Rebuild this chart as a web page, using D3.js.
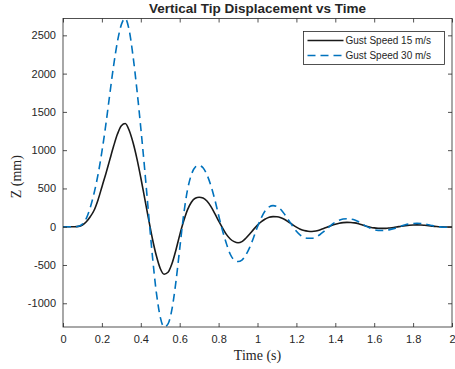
<!DOCTYPE html>
<html>
<head>
<meta charset="utf-8">
<script src="https://cdn.jsdelivr.net/npm/d3@7"></script>
<style>
  html, body { margin: 0; padding: 0; background: #fff; }
  svg { display: block; }
</style>
</head>
<body>
<svg id="chart" width="455" height="369"></svg>
<script>
// Time samples (s)
const time = [
  0.00,0.02,0.04,0.06,0.08,0.10,0.12,0.14,0.16,0.18,
  0.20,0.22,0.24,0.26,0.28,0.30,0.32,0.34,0.36,0.38,
  0.40,0.42,0.44,0.46,0.48,0.50,0.52,0.54,0.56,0.58,
  0.60,0.62,0.64,0.66,0.68,0.70,0.72,0.74,0.76,0.78,
  0.80,0.82,0.84,0.86,0.88,0.90,0.92,0.94,0.96,0.98,
  1.00,1.02,1.04,1.06,1.08,1.10,1.12,1.14,1.16,1.18,
  1.20,1.22,1.24,1.26,1.28,1.30,1.32,1.34,1.36,1.38,
  1.40,1.42,1.44,1.46,1.48,1.50,1.52,1.54,1.56,1.58,
  1.60,1.62,1.64,1.66,1.68,1.70,1.72,1.74,1.76,1.78,
  1.80,1.82,1.84,1.86,1.88,1.90,1.92,1.94,1.96,1.98,
  2.00
];

// Vertical tip displacement (mm), gust speed 15 m/s
const zGust15 = [
  0,0,0,0,4,22,65,130,215,350,
  520,690,870,1050,1210,1320,1348,1260,1100,890,
  640,370,100,-160,-380,-545,-620,-595,-485,-310,
  -110,70,220,320,372,385,375,335,265,175,
  75,-15,-100,-160,-195,-210,-195,-150,-95,-35,
  20,65,100,125,132,130,118,95,62,27,
  -5,-32,-50,-59,-62,-57,-42,-24,-4,16,
  33,46,54,57,56,50,38,23,7,-6,
  -15,-20,-22,-21,-16,-10,-2,6,13,19,
  23,24,23,19,14,8,3,-1,-3,-4,
  -4
];

// Vertical tip displacement (mm), gust speed 30 m/s
const zGust30 = [
  0,0,0,0,5,35,110,250,440,680,
  980,1330,1720,2100,2420,2640,2720,2570,2230,1790,
  1290,750,170,-390,-860,-1180,-1310,-1270,-1080,-730,
  -290,150,480,680,780,800,770,680,540,360,
  150,-50,-220,-360,-435,-455,-435,-370,-270,-140,
  0,120,210,260,275,265,225,160,85,10,
  -60,-110,-140,-150,-150,-135,-105,-65,-20,25,
  60,85,100,104,100,88,65,35,5,-20,
  -38,-48,-50,-47,-38,-25,-8,10,25,36,
  42,44,42,35,25,14,5,-2,-6,-7,
  -6
];

const seriesNames = ["Gust Speed 15 m/s", "Gust Speed 30 m/s"];
const xTicks = [0,0.2,0.4,0.6,0.8,1,1.2,1.4,1.6,1.8,2];
const xTickLabels = ["0","0.2","0.4","0.6","0.8","1","1.2","1.4","1.6","1.8","2"];
const yTicks = [-1000,-500,0,500,1000,1500,2000,2500];
const yTickLabels = ["-1000","-500","0","500","1000","1500","2000","2500"];
const xDomain = [0, 2];
const yDomain = [-1310, 2720];

const svg = d3.select("#chart");
const plot = { left: 63, right: 452, top: 18.5, bottom: 327 };
const axisColor = "#262626";
const tickLen = 4;

const x = d3.scaleLinear().domain(xDomain).range([plot.left, plot.right]);
const y = d3.scaleLinear().domain(yDomain).range([plot.bottom, plot.top]);

svg.append("defs").append("clipPath").attr("id", "plot-clip")
  .append("rect")
  .attr("x", plot.left).attr("y", plot.top)
  .attr("width", plot.right - plot.left)
  .attr("height", plot.bottom - plot.top);

// Data lines
const line = d3.line().curve(d3.curveMonotoneX);
const series = [
  { name: seriesNames[0], values: zGust15, color: "#1a1a1a", dash: null },
  { name: seriesNames[1], values: zGust30, color: "#0072BD", dash: "8,5" }
];

const lines = svg.append("g").attr("clip-path", "url(#plot-clip)");
series.forEach(s => {
  lines.append("path")
    .attr("d", line(time.map((t, i) => [x(t), y(s.values[i])])))
    .attr("fill", "none")
    .attr("stroke", s.color)
    .attr("stroke-width", 1.6)
    .attr("stroke-dasharray", s.dash)
    .attr("stroke-linejoin", "round");
});

// Axes: bottom/left with labels, top/right ticks only (boxed frame)
const fmtX = (d, i) => xTickLabels[i];
const fmtY = (d, i) => yTickLabels[i];

function styleAxis(g) {
  g.select(".domain").remove();
  g.selectAll(".tick line").attr("stroke", axisColor).attr("stroke-width", 0.8);
  g.selectAll(".tick text")
    .attr("fill", axisColor)
    .style("font-family", "'Liberation Sans', Arial, Helvetica, sans-serif")
    .style("font-size", "11px");
}

svg.append("g")
  .attr("transform", `translate(0,${plot.bottom})`)
  .call(d3.axisBottom(x).tickValues(xTicks).tickFormat(fmtX).tickSizeInner(-tickLen).tickSizeOuter(0).tickPadding(8))
  .call(styleAxis);

svg.append("g")
  .attr("transform", `translate(0,${plot.top})`)
  .call(d3.axisTop(x).tickValues(xTicks).tickFormat("").tickSizeInner(-tickLen).tickSizeOuter(0))
  .call(styleAxis);

svg.append("g")
  .attr("transform", `translate(${plot.left},0)`)
  .call(d3.axisLeft(y).tickValues(yTicks).tickFormat(fmtY).tickSizeInner(-tickLen).tickSizeOuter(0).tickPadding(7))
  .call(styleAxis);

svg.append("g")
  .attr("transform", `translate(${plot.right},0)`)
  .call(d3.axisRight(y).tickValues(yTicks).tickFormat("").tickSizeInner(-tickLen).tickSizeOuter(0))
  .call(styleAxis);

// Frame
svg.append("rect")
  .attr("x", plot.left).attr("y", plot.top)
  .attr("width", plot.right - plot.left)
  .attr("height", plot.bottom - plot.top)
  .attr("fill", "none")
  .attr("stroke", axisColor)
  .attr("stroke-width", 0.8);

// Title
svg.append("text")
  .attr("x", (plot.left + plot.right) / 2)
  .attr("y", 13)
  .attr("text-anchor", "middle")
  .attr("fill", axisColor)
  .style("font-family", "'Liberation Sans', Arial, Helvetica, sans-serif")
  .style("font-weight", "bold")
  .style("font-size", "13.5px")
  .text("Vertical Tip Displacement vs Time");

// Axis labels
svg.append("text")
  .attr("x", (plot.left + plot.right) / 2)
  .attr("y", 360)
  .attr("text-anchor", "middle")
  .attr("fill", axisColor)
  .style("font-family", "'Liberation Serif', 'DejaVu Serif', serif")
  .style("font-size", "14px")
  .text("Time (s)");

svg.append("text")
  .attr("transform", `translate(21,${(plot.top + plot.bottom) / 2 + 4}) rotate(-90)`)
  .attr("text-anchor", "middle")
  .attr("fill", axisColor)
  .style("font-family", "'Liberation Serif', 'DejaVu Serif', serif")
  .style("font-size", "14px")
  .text("Z (mm)");

// Legend
const legend = svg.append("g").attr("transform", "translate(303.5,31.5)");
legend.append("rect")
  .attr("width", 141).attr("height", 33)
  .attr("fill", "#fff")
  .attr("stroke", axisColor)
  .attr("stroke-width", 0.8);

series.forEach((s, i) => {
  const ly = 9 + i * 15;
  legend.append("line")
    .attr("x1", 4).attr("x2", 40)
    .attr("y1", ly).attr("y2", ly)
    .attr("stroke", s.color)
    .attr("stroke-width", 1.6)
    .attr("stroke-dasharray", s.dash);
  legend.append("text")
    .attr("x", 42).attr("y", ly + 3.5)
    .attr("fill", axisColor)
    .style("font-family", "'Liberation Sans', Arial, Helvetica, sans-serif")
    .style("font-size", "10px")
    .text(s.name);
});
</script>
</body>
</html>
